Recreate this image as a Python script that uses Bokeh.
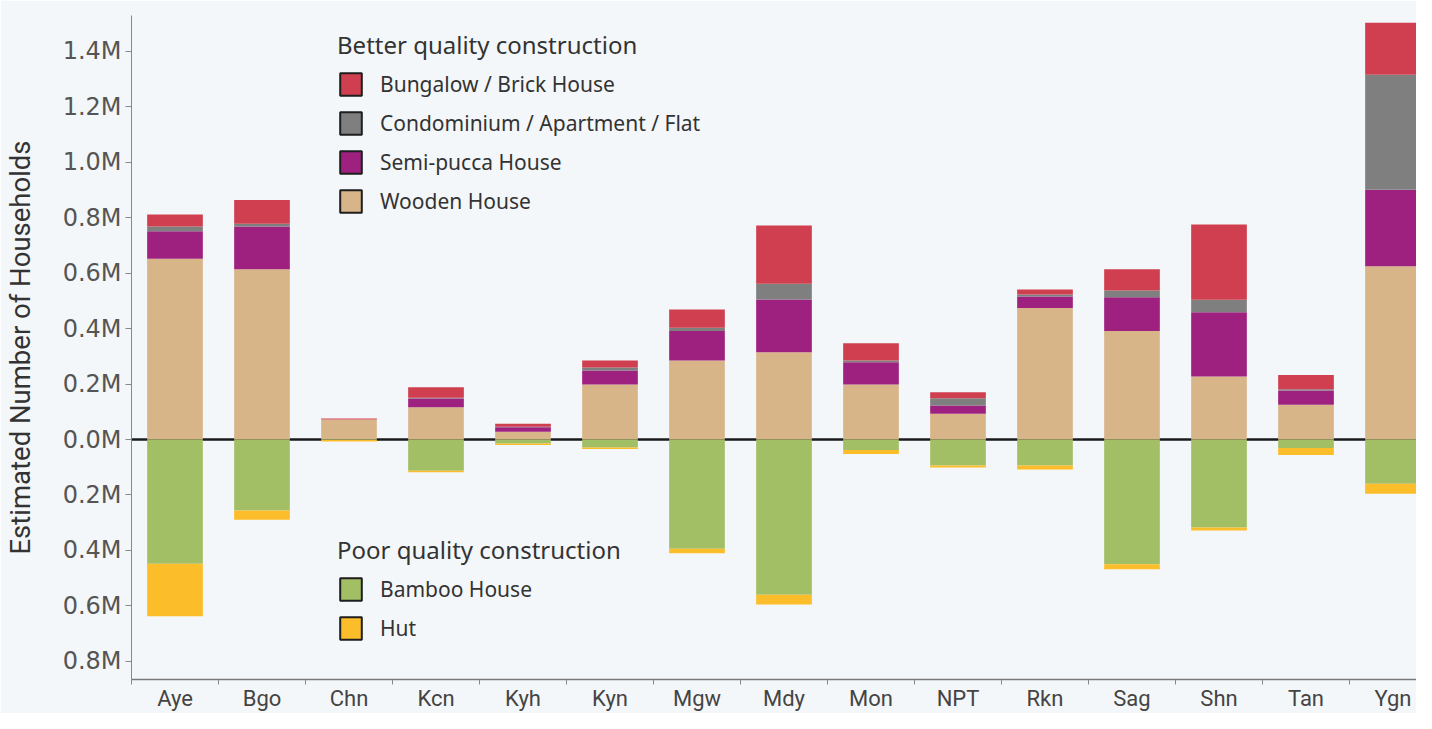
from bokeh.plotting import figure
from bokeh.models import (ColumnDataSource, Range1d, FixedTicker, CustomJSTickFormatter,
                          Span, Legend, LegendItem)
from bokeh.embed import file_html
from bokeh.resources import INLINE

# ---- data (households) ----
categories = ["Aye", "Bgo", "Chn", "Kcn", "Kyh", "Kyn", "Mgw", "Mdy", "Mon", "NPT",
              "Rkn", "Sag", "Shn", "Tan", "Ygn"]
wooden   = [652000, 614000, 72000, 116000, 28000, 198000, 285000, 315000, 198000, 93000,
            474000, 391000, 227000, 125000, 625000]
semi     = [99000, 154000, 0, 32000, 16000, 51000, 106000, 190000, 81000, 30000,
            42000, 122000, 232000, 52000, 276000]
condo    = [17000, 10000, 0, 3000, 2000, 11000, 12000, 57000, 6000, 26000,
            7000, 24000, 45000, 4000, 414000]
bungalow = [43000, 86000, 4000, 37000, 11000, 25000, 66000, 210000, 62000, 21000,
            18000, 77000, 271000, 52000, 188000]
bamboo   = [448000, 256000, 2000, 113000, 14000, 29000, 394000, 560000, 38000, 94000,
            94000, 450000, 317000, 31000, 160000]
hut      = [189000, 33000, 5000, 5000, 6000, 5000, 16000, 35000, 14000, 7000,
            14000, 18000, 11000, 25000, 36000]
y_ticks = [-800000, -600000, -400000, -200000, 0, 200000, 400000, 600000, 800000,
           1000000, 1200000, 1400000]

better_names = ["Wooden House", "Semi-pucca House", "Condominium / Apartment / Flat",
                "Bungalow / Brick House"]
poor_names = ["Bamboo House", "Hut"]

C_WOOD, C_SEMI, C_CONDO, C_BUNG = "#d8b489", "#9e2180", "#7f7f7f", "#cf3f4f"
C_BAMBOO, C_HUT = "#a2bf66", "#fbbd29"
BG = "#f4f7f9"

# ---- layout ----
W, H = 1416, 713
B_LEFT, B_TOP, B_BOTTOM = 131, 15, 34
PX_PER_M = 277.3                       # vertical scale, px per million
frame_h = H - B_TOP - B_BOTTOM
Y1 = 424 / PX_PER_M * 1e6              # zero line 424 px below the frame top
Y0 = Y1 - frame_h / PX_PER_M * 1e6

n = len(categories)
x = [i + 0.5 for i in range(n)]
src = ColumnDataSource(dict(
    x=x, wooden=wooden, semi=semi, condo=condo, bungalow=bungalow,
    bamboo_n=[-v for v in bamboo], hut_n=[-v for v in hut],
))

p = figure(width=W, height=H, output_backend="svg", toolbar_location=None,
           x_range=Range1d(0, (W - B_LEFT) / 87.0), y_range=Range1d(Y0, Y1),
           min_border_left=B_LEFT, min_border_right=0, min_border_top=B_TOP,
           min_border_bottom=B_BOTTOM,
           background_fill_color=BG, border_fill_color=BG, outline_line_color=None)
p.grid.visible = False

zero = Span(location=0, dimension="width", line_color="#1a1a1a", line_width=2.6,
            level="underlay")
p.add_layout(zero)

p.vbar_stack(["wooden", "semi", "condo", "bungalow"], x="x", width=0.64, source=src,
             fill_color=[C_WOOD, C_SEMI, C_CONDO, C_BUNG], line_color=None)
p.vbar_stack(["bamboo_n", "hut_n"], x="x", width=0.64, source=src,
             fill_color=[C_BAMBOO, C_HUT], line_color=None)

# legend swatch proxies (zero-height bars outside the visible range)
def swatch(color):
    return p.vbar(x=[-5], top=[0], width=0.5, fill_color=color, line_color="#1e1e1e",
                  line_width=2)

r_bung, r_condo, r_semi, r_wood = swatch(C_BUNG), swatch(C_CONDO), swatch(C_SEMI), swatch(C_WOOD)
r_bam, r_hut = swatch(C_BAMBOO), swatch(C_HUT)

def make_legend(title, items, loc):
    lg = Legend(title=title, items=items, location=loc, padding=0, margin=0,
                glyph_width=27, glyph_height=28, label_standoff=16, spacing=11,
                title_standoff=9, border_line_alpha=0, background_fill_alpha=0,
                title_text_font="Noto Sans", title_text_font_size="24px",
                title_text_font_style="normal", title_text_color="#333333",
                label_text_font="Noto Sans", label_text_font_size="21px",
                label_text_color="#333333")
    p.add_layout(lg, "center")

# legend offsets are measured from the frame bottom
make_legend("Better quality construction",
            [LegendItem(label=better_names[3], renderers=[r_bung]),
             LegendItem(label=better_names[2], renderers=[r_condo]),
             LegendItem(label=better_names[1], renderers=[r_semi]),
             LegendItem(label=better_names[0], renderers=[r_wood])],
            (206, 471 - 7))
make_legend("Poor quality construction",
            [LegendItem(label=poor_names[0], renderers=[r_bam]),
             LegendItem(label=poor_names[1], renderers=[r_hut])],
            (206, 44 - 7))

# y axis
p.yaxis.ticker = FixedTicker(ticks=y_ticks, minor_ticks=[])
p.yaxis.formatter = CustomJSTickFormatter(code="return (Math.abs(tick)/1e6).toFixed(1) + 'M';")
p.yaxis.axis_label = "Estimated Number of Households"
p.yaxis.axis_label_text_font = "Roboto"
p.yaxis.axis_label_text_font_size = "27.5px"
p.yaxis.axis_label_text_font_style = "normal"
p.yaxis.axis_label_text_color = "#333333"
p.yaxis.axis_label_standoff = 23
p.yaxis.major_label_text_font = "DejaVu Sans"
p.yaxis.major_label_text_font_size = "24px"
p.yaxis.major_label_text_color = "#555555"
p.yaxis.major_label_standoff = 4
p.yaxis.major_tick_out = 6
p.yaxis.major_tick_in = 0
p.yaxis.major_tick_line_color = "#888888"
p.yaxis.axis_line_color = "#888888"

# x axis: names at category centres, tick marks at category boundaries
p.xaxis.ticker = FixedTicker(ticks=x, minor_ticks=list(range(n + 1)))
p.xaxis.formatter = CustomJSTickFormatter(args=dict(cats=categories),
                                          code="return cats[Math.floor(tick)] || '';")
p.xaxis.major_label_text_font = "Roboto"
p.xaxis.major_label_text_font_size = "22px"
p.xaxis.major_label_text_color = "#444444"
p.xaxis.major_label_standoff = 1
p.xaxis.major_tick_out = 0
p.xaxis.major_tick_in = 0
p.xaxis.minor_tick_out = 5
p.xaxis.minor_tick_in = 0
p.xaxis.minor_tick_line_color = "#888888"
p.xaxis.axis_line_color = "#777777"
p.xaxis.axis_line_width = 1.5

open("out.html", "w").write(file_html(p, INLINE))
